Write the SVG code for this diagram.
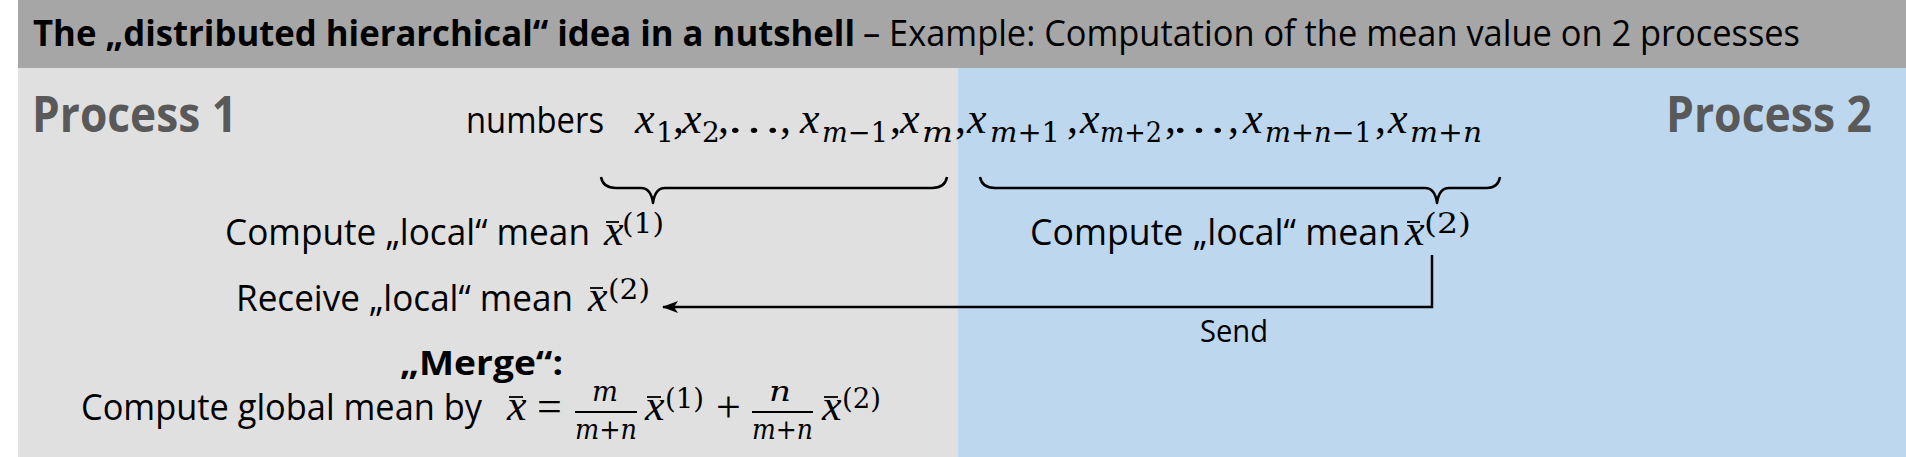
<svg xmlns="http://www.w3.org/2000/svg" width="1906" height="457" viewBox="0 0 1906 457">
<style>
.sans{font-family:"Open Sans","Noto Sans",sans-serif}
.b{font-weight:700}
.proc{font-size:50px;fill:#595959;font-weight:700}
.body{font-size:36px;fill:#000}
.ttl{font-size:36px;fill:#000}
.mi{font-family:"Liberation Serif",serif;font-style:italic;font-size:44px}
.mr{font-family:"Liberation Serif",serif;font-size:44px}
.ms{font-family:"DejaVu Serif",serif;font-size:28px}
.msi{font-family:"DejaVu Serif",serif;font-size:28px;font-style:italic}
.bar{stroke:#000;stroke-width:1.8}
.brace{fill:none;stroke:#000;stroke-width:2.5;stroke-linejoin:round}
.conn{fill:none;stroke:#000;stroke-width:2.5}
</style>
<defs>
<marker id="arr" viewBox="0 0 16 12" refX="15" refY="6" markerWidth="16" markerHeight="12" markerUnits="userSpaceOnUse" orient="auto">
<path d="M0,0 L16,6 L0,12 L4,6 z" fill="#000"/>
</marker>
</defs>
<rect width="1906" height="457" fill="#fff"/>
<g id="header">
<rect x="18" y="0" width="1888" height="68" fill="#a6a6a6"/>
<text class="sans b ttl" x="33" y="46" textLength="822" lengthAdjust="spacingAndGlyphs">The „distributed hierarchical“ idea in a nutshell</text>
<text class="sans ttl" x="863" y="46" textLength="937" lengthAdjust="spacingAndGlyphs">– Example: Computation of the mean value on 2 processes</text>
</g>
<g id="process1">
<rect x="18" y="68" width="940" height="389" fill="#e0e0e0"/>
<text class="sans proc" x="32" y="132" textLength="205" lengthAdjust="spacingAndGlyphs">Process 1</text>
</g>
<g id="process2">
<rect x="958" y="68" width="948" height="389" fill="#bdd7ee"/>
<text class="sans proc" x="1666" y="132" textLength="206" lengthAdjust="spacingAndGlyphs">Process 2</text>
</g>
<g id="numbers">
<text class="sans body" x="466" y="133" textLength="138" lengthAdjust="spacingAndGlyphs">numbers</text>
<text class="mi" x="635" y="133">x</text><text class="ms" x="656" y="142">1</text><text class="mr" x="673" y="133">,</text>
<text class="mi" x="682" y="133">x</text><text class="ms" x="702" y="142">2</text><text class="mr" x="718" y="133">,</text>
<text class="mr" x="726" y="133" textLength="56" lengthAdjust="spacingAndGlyphs">…</text><text class="mr" x="780" y="133">,</text>
<text class="mi" x="800" y="133">x</text><text class="ms" x="822" y="142" textLength="66" lengthAdjust="spacingAndGlyphs"><tspan font-style="italic">m</tspan>−1</text><text class="mr" x="890" y="133">,</text>
<text class="mi" x="900" y="133">x</text><text class="msi" x="922" y="142" textLength="31" lengthAdjust="spacingAndGlyphs">m</text><text class="mr" x="955" y="133">,</text>
<text class="mi" x="967" y="133">x</text><text class="ms" x="990" y="142" textLength="70" lengthAdjust="spacingAndGlyphs"><tspan font-style="italic">m</tspan>+1</text><text class="mr" x="1067" y="133">,</text>
<text class="mi" x="1080" y="133">x</text><text class="ms" x="1100" y="142" textLength="62" lengthAdjust="spacingAndGlyphs"><tspan font-style="italic">m</tspan>+2</text><text class="mr" x="1165" y="133">,</text>
<text class="mr" x="1171" y="133" textLength="56" lengthAdjust="spacingAndGlyphs">…</text><text class="mr" x="1228" y="133">,</text>
<text class="mi" x="1243" y="133">x</text><text class="ms" x="1265" y="142" textLength="107" lengthAdjust="spacingAndGlyphs"><tspan font-style="italic">m</tspan>+<tspan font-style="italic">n</tspan>−1</text><text class="mr" x="1375" y="133">,</text>
<text class="mi" x="1388" y="133">x</text><text class="ms" x="1410" y="142" textLength="72" lengthAdjust="spacingAndGlyphs"><tspan font-style="italic">m</tspan>+<tspan font-style="italic">n</tspan></text>
</g>
<g id="brace1">
<path class="brace" d="M601 177 Q603 188 616 188 L641 188 Q651 188 653 203 Q655 188 665 188 L932 188 Q945 188 947 177"/>
</g>
<g id="brace2">
<path class="brace" d="M980 177 Q982 188 995 188 L1425 188 Q1435 188 1437 203 Q1439 188 1449 188 L1487 188 Q1498 188 1500 177"/>
</g>
<g id="local1">
<text class="sans body" x="225" y="245" textLength="365" lengthAdjust="spacingAndGlyphs">Compute „local“ mean</text>
<text class="mi" x="604" y="245" font-size="34">x</text><line class="bar" x1="606" y1="222" x2="619" y2="222"/>
<text class="ms" x="622" y="233" font-size="24" textLength="42" lengthAdjust="spacingAndGlyphs">(1)</text>
</g>
<g id="local2">
<text class="sans body" x="1030" y="245" textLength="370" lengthAdjust="spacingAndGlyphs">Compute „local“ mean</text>
<text class="mi" x="1405" y="245" font-size="34">x</text><line class="bar" x1="1407" y1="222" x2="1420" y2="222"/>
<text class="ms" x="1424" y="233" font-size="24" textLength="47" lengthAdjust="spacingAndGlyphs">(2)</text>
</g>
<g id="receive">
<text class="sans body" x="236" y="311" textLength="337" lengthAdjust="spacingAndGlyphs">Receive „local“ mean</text>
<text class="mi" x="588" y="311" font-size="34">x</text><line class="bar" x1="590" y1="288" x2="603" y2="288"/>
<text class="ms" x="608" y="299" font-size="24" textLength="42" lengthAdjust="spacingAndGlyphs">(2)</text>
</g>
<g id="connectors">
<path class="conn" d="M1432 255 L1432 307 L663 307" marker-end="url(#arr)"/>
<text class="sans" x="1200" y="342" font-size="31" textLength="68" lengthAdjust="spacingAndGlyphs">Send</text>
</g>
<g id="merge">
<text class="sans b" x="400" y="375" font-size="34" textLength="163" lengthAdjust="spacingAndGlyphs">„Merge“:</text>
<text class="sans body" x="81" y="420" textLength="401" lengthAdjust="spacingAndGlyphs">Compute global mean by</text>
<text class="mi" x="507" y="420" font-size="38">x</text><line class="bar" x1="509" y1="397" x2="523" y2="397"/>
<text class="mr" x="537" y="421" font-size="40">=</text>
<text class="msi" x="592" y="401" font-size="30" textLength="26" lengthAdjust="spacingAndGlyphs">m</text>
<line class="bar" x1="575" y1="412" x2="637" y2="412"/>
<text class="ms" x="575" y="439" font-size="30" textLength="62" lengthAdjust="spacingAndGlyphs"><tspan font-style="italic">m</tspan>+<tspan font-style="italic">n</tspan></text>
<text class="mi" x="645" y="420" font-size="38">x</text><line class="bar" x1="647" y1="397" x2="661" y2="397"/>
<text class="ms" x="665" y="408" font-size="25" textLength="39" lengthAdjust="spacingAndGlyphs">(1)</text>
<text class="mr" x="716" y="422" font-size="40">+</text>
<text class="msi" x="769" y="401" font-size="30" textLength="22" lengthAdjust="spacingAndGlyphs">n</text>
<line class="bar" x1="752" y1="412" x2="813" y2="412"/>
<text class="ms" x="752" y="439" font-size="30" textLength="61" lengthAdjust="spacingAndGlyphs"><tspan font-style="italic">m</tspan>+<tspan font-style="italic">n</tspan></text>
<text class="mi" x="822" y="420" font-size="38">x</text><line class="bar" x1="824" y1="397" x2="838" y2="397"/>
<text class="ms" x="842" y="408" font-size="25" textLength="39" lengthAdjust="spacingAndGlyphs">(2)</text>
</g>
</svg>
